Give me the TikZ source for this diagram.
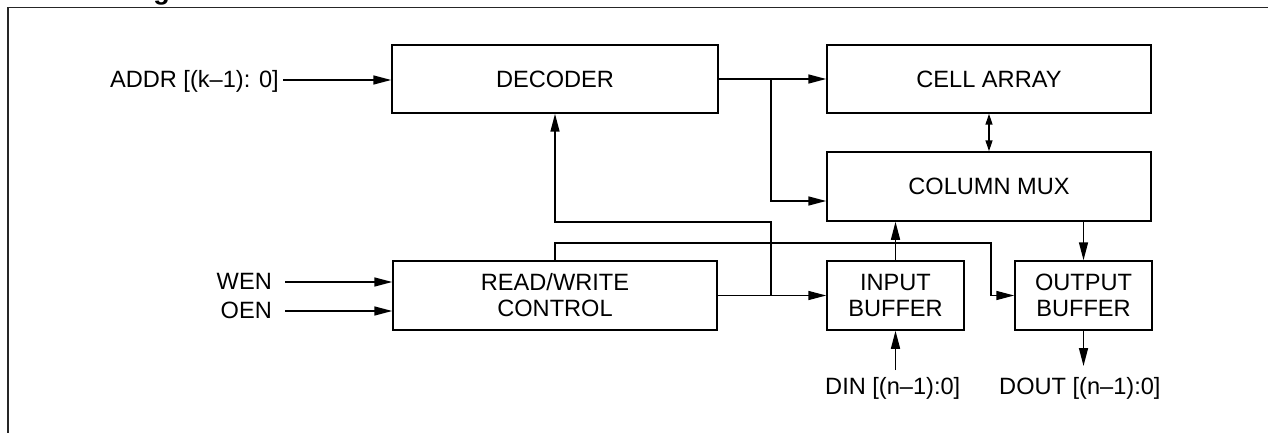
\documentclass[tikz,border=0pt]{standalone}
\usepackage{fontspec}
\setmainfont{Liberation Sans}
\usetikzlibrary{arrows.meta}
\newcommand{\blkfont}{\fontsize{23.6}{26}\selectfont}
\begin{document}
\begin{tikzpicture}[x=1pt,y=-1pt,
  blk/.style={draw,line width=1.5pt,inner sep=0pt,align=center,font=\blkfont},
  lbl/.style={inner sep=0pt,font=\blkfont},
  arr/.style={line width=1.5pt,-{Triangle[length=18pt,width=9pt]}},
  darr/.style={line width=1.5pt,{Triangle[length=11pt,width=7pt]}-{Triangle[length=11pt,width=7pt]}},
  frame/.style={line width=1.5pt,black!85}]
\useasboundingbox (0,0) rectangle (1268,433);
% frame and cut title
\draw[frame] (1270,7.5) -- (8,7.5) -- (8,435);
\node[anchor=base,inner sep=0pt,font=\fontsize{27}{30}\selectfont\bfseries] (ttl) at (161.5,0) {g};
% blocks
\node[blk,minimum width=326pt,minimum height=68pt] (dec) at (555,79) {DECODER};
\node[blk,minimum width=324pt,minimum height=68pt] (cell) at (989,79) {CELL ARRAY};
\node[blk,minimum width=324pt,minimum height=69pt] (mux) at (989,186.5) {COLUMN MUX};
\node[blk,minimum width=324pt,minimum height=69pt] (rw) at (555,295.5) {READ/WRITE\\CONTROL};
\node[blk,minimum width=137pt,minimum height=69pt] (ib) at (895.5,295.5) {INPUT\\BUFFER};
\node[blk,minimum width=137pt,minimum height=69pt] (ob) at (1083.5,295.5) {OUTPUT\\BUFFER};
% labels
\node[lbl,anchor=base east] (addr) at (279,87.5) {ADDR [(k–1): 0]};
\node[lbl,anchor=base east] (wen) at (272,289.5) {WEN};
\node[lbl,anchor=base east] (oen) at (272,318.5) {OEN};
\node[lbl,anchor=base west] (din) at (825,394.5) {DIN [(n–1):0]};
\node[lbl,anchor=base west] (dout) at (999,394.5) {DOUT [(n–1):0]};
% connector ends and bends
\coordinate (addrS) at (283,80);
\coordinate (wenS) at (285,282);
\coordinate (oenS) at (285,311);
\coordinate (j1) at (771,79);
\coordinate (j2) at (771,295.5);
\coordinate (k1) at (771,222);
\coordinate (k3) at (991,243);
\coordinate (dinE) at (895.5,370);
\coordinate (doutE) at (1083.5,366);
% connectors
\draw[arr] (addrS) -- (addrS -| dec.west);
\draw[arr] (wenS) -- (wenS -| rw.west);
\draw[arr] (oenS) -- (oenS -| rw.west);
\draw[arr] (dec.east) -- (cell.west);
\draw[arr] (j1) |- ([yshift=-14.5pt]mux.west);
\draw[arr] (rw.east) -- (ib.west);
\draw[arr] (j2) -- (k1) -| (dec.south);
\draw[arr] (rw.north) |- (k3) |- (ob.west);
\draw[arr] (ib.north) -- (ib.north |- mux.south);
\draw[arr] (ob.north |- mux.south) -- (ob.north);
\draw[darr] (cell.south) -- (mux.north);
\draw[arr] (dinE) -- (ib.south);
\draw[arr] (ob.south) -- (doutE);
\end{tikzpicture}
\end{document}
